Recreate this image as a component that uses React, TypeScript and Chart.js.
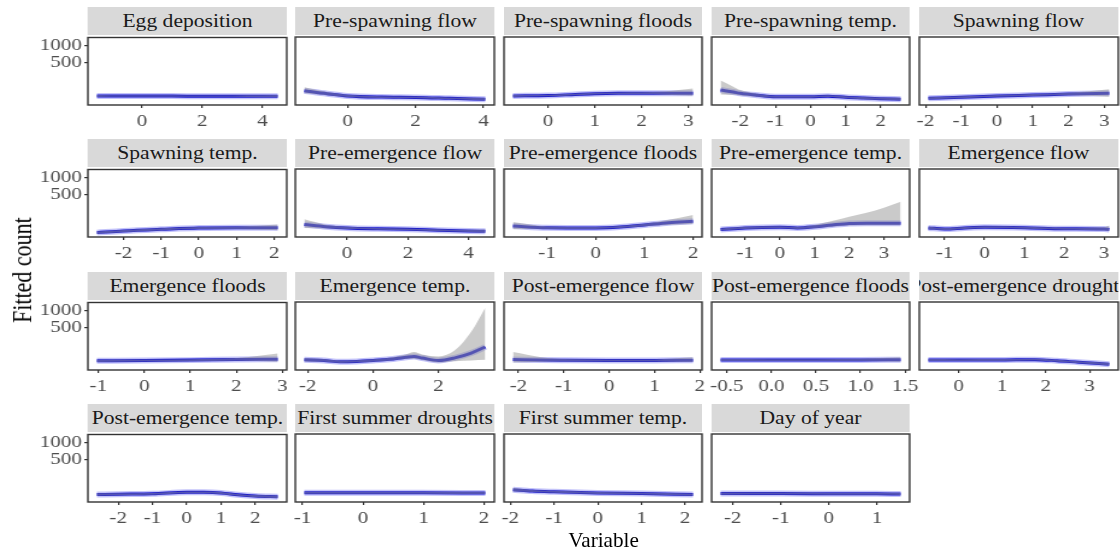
import React, { useEffect, useRef } from 'react';
import { Chart, registerables } from 'chart.js';

Chart.register(...registerables);

// ---------------- data (fitted counts, lower / upper band) ----------------
const Y_TICK_VALUES = [500, 1000];
const Y_TICK_LABELS = ['500', '1000'];

const eggDepositionX = [-1.49, -0.5, 0.5, 1.5, 2.5, 3.5, 4.5];
const eggDepositionFit = [15, 15, 15, 14.5, 14.5, 14.5, 14.5];
const eggDepositionLow = [11, 12, 12, 12, 12, 11, 10];
const eggDepositionHigh = [20, 18.5, 18, 17.5, 17.5, 18.5, 20];
const eggDepositionTicks = ['0', '2', '4'];

const preSpawningFlowX = [-1.27, -0.6, 0, 1, 2, 3, 4.05];
const preSpawningFlowFit = [45, 26, 15, 10.5, 9.5, 6.7, 4.2];
const preSpawningFlowLow = [28, 18, 11, 7.5, 6.5, 4.2, 2];
const preSpawningFlowHigh = [74, 36, 20, 14, 13, 9.5, 7.5];
const preSpawningFlowTicks = ['0', '2', '4'];

const preSpawningFloodsX = [-0.75, 0, 0.5, 1, 1.5, 2, 2.5, 3.1];
const preSpawningFloodsFit = [15, 17, 21, 26, 28, 28, 28, 28];
const preSpawningFloodsLow = [11, 13.5, 17, 21.5, 23, 23, 21, 16];
const preSpawningFloodsHigh = [20, 21, 25, 31, 33, 34, 40, 62];
const preSpawningFloodsTicks = ['0', '1', '2', '3'];

const preSpawningTempX = [-2.56, -2.2, -2, -1.5, -1, -0.5, 0, 0.5, 1, 1.5, 2, 2.57];
const preSpawningTempFit = [50, 36, 28, 18, 12, 12, 12, 14, 10, 7.5, 5.7, 4.4];
const preSpawningTempLow = [22, 20, 17, 12, 8.5, 8.5, 8.5, 10.5, 7, 4.5, 3, 1.8];
const preSpawningTempHigh = [150, 80, 50, 26, 16, 16, 16, 18, 14, 11, 9, 8];
const preSpawningTempTicks = ['-2', '-1', '0', '1', '2'];

const spawningFlowX = [-1.92, -1, 0, 1, 2, 3.14];
const spawningFlowFit = [6.7, 10, 15, 19, 24, 28];
const spawningFlowLow = [4, 7, 11.5, 15, 18, 12];
const spawningFlowHigh = [10, 13.5, 19, 24, 31, 56];
const spawningFlowTicks = ['-2', '-1', '0', '1', '2', '3'];

const spawningTempX = [-2.7, -2, -1, 0, 1, 2.09];
const spawningTempFit = [1.8, 5, 9.8, 15, 16, 16];
const spawningTempLow = [0.6, 2.5, 6.5, 11, 11, 7];
const spawningTempHigh = [4, 8, 13.5, 19.5, 22, 34];
const spawningTempTicks = ['-2', '-1', '0', '1', '2'];

const preEmergenceFlowX = [-1.41, -0.7, 0, 1, 2, 3, 4, 4.55];
const preEmergenceFlowFit = [33, 21, 15, 11.5, 9.6, 7, 5, 4.2];
const preEmergenceFlowLow = [15, 13, 11, 8.5, 6.5, 4.5, 2.8, 1.5];
const preEmergenceFlowHigh = [73, 32, 20, 15, 13, 10, 8, 9];
const preEmergenceFlowTicks = ['0', '2', '4'];

const preEmergenceFloodsX = [-1.7, -1, 0, 0.5, 1, 1.5, 2];
const preEmergenceFloodsFit = [24, 16, 15, 19, 30, 45, 57];
const preEmergenceFloodsLow = [10, 11, 11, 14.5, 23, 30, 36];
const preEmergenceFloodsHigh = [50, 22, 19.5, 24, 38, 70, 120];
const preEmergenceFloodsTicks = ['-1', '0', '1', '2'];

const preEmergenceTempX = [-1.71, -1, 0, 0.5, 1, 1.5, 2, 2.5, 3, 3.48];
const preEmergenceTempFit = [9, 15, 18, 15, 20, 30, 40, 42, 42, 42];
const preEmergenceTempLow = [6, 11, 13.5, 11, 14, 20, 27, 28, 28, 28];
const preEmergenceTempHigh = [13, 20, 23, 20, 30, 58, 99, 147, 221, 330];
const preEmergenceTempTicks = ['-1', '0', '1', '2', '3'];

const emergenceFlowX = [-1.41, -1, -0.5, 0, 1, 2, 3, 3.13];
const emergenceFlowFit = [15, 11, 15, 18, 16, 12, 11, 9];
const emergenceFlowLow = [9, 7.5, 11, 13.5, 12, 8.5, 6, 4];
const emergenceFlowHigh = [22, 15, 19.5, 22.5, 20.5, 16, 18, 27];
const emergenceFlowTicks = ['-1', '0', '1', '2', '3'];

const emergenceFloodsX = [-1.03, 0, 1, 2, 2.9];
const emergenceFloodsFit = [16, 17, 19, 22, 24];
const emergenceFloodsLow = [11.5, 13, 14.5, 16, 12];
const emergenceFloodsHigh = [21, 21.5, 24, 30, 64];
const emergenceFloodsTicks = ['-1', '0', '1', '2', '3'];

const emergenceTempX = [-2.1, -1.5, -1, -0.5, 0, 0.5, 1, 1.25, 1.5, 2, 2.5, 3, 3.43];
const emergenceTempFit = [20, 17, 11.5, 13, 17, 23, 35, 40, 30, 17, 31, 67, 132];
const emergenceTempLow = [13, 11.5, 7.5, 9, 12, 16, 24, 25, 19, 9, 14, 17, 20];
const emergenceTempHigh = [30, 24, 16.5, 18, 23, 32, 55, 76, 55, 40, 93, 390, 1080];
const emergenceTempTicks = ['-2', '0', '2'];

const postEmergenceFlowX = [-2.12, -1.5, -1, 0, 1, 1.85];
const postEmergenceFlowFit = [22, 19, 18, 17, 17, 18];
const postEmergenceFlowLow = [9, 12, 13, 12.5, 12.5, 11];
const postEmergenceFlowHigh = [76, 35, 24, 22, 22, 34];
const postEmergenceFlowTicks = ['-2', '-1', '0', '1', '2'];

const postEmergenceFloodsX = [-0.57, 0, 0.5, 1, 1.45];
const postEmergenceFloodsFit = [19, 19, 19, 19.5, 21];
const postEmergenceFloodsLow = [14.5, 15, 15, 14.5, 12];
const postEmergenceFloodsHigh = [24, 23.5, 23.5, 25, 34];
const postEmergenceFloodsTicks = ['-0.5', '0.0', '0.5', '1.0', '1.5'];

const postEmergenceDroughtsX = [-0.69, 0, 1, 1.75, 2.25, 2.75, 3.45];
const postEmergenceDroughtsFit = [19, 19, 19.5, 21, 16, 10, 4.3];
const postEmergenceDroughtsLow = [14.5, 15, 15, 16.5, 12, 6.5, 2];
const postEmergenceDroughtsHigh = [24, 23.5, 24, 26, 21, 14, 8];
const postEmergenceDroughtsTicks = ['0', '1', '2', '3'];

const postEmergenceTempX = [-2.62, -2, -1, 0, 0.5, 1, 1.5, 2, 2.66];
const postEmergenceTempFit = [9.3, 10.5, 11.7, 18, 18, 15.5, 8.3, 4.7, 3.2];
const postEmergenceTempLow = [5.5, 7, 8.5, 14, 14, 11.5, 5.5, 2.5, 1.2];
const postEmergenceTempHigh = [14, 14, 15.5, 22.5, 22.5, 20, 11.5, 7.5, 6];
const postEmergenceTempTicks = ['-2', '-1', '0', '1', '2'];

const firstSummerDroughtsX = [-0.97, 0, 1, 2.02];
const firstSummerDroughtsFit = [15.7, 15.7, 15.5, 15];
const firstSummerDroughtsLow = [11.5, 11.8, 11.5, 10.5];
const firstSummerDroughtsHigh = [20.5, 20, 20, 20.5];
const firstSummerDroughtsTicks = ['-1', '0', '1', '2'];

const firstSummerTempX = [-1.94, -1.5, -1, 0, 1, 2.18];
const firstSummerTempFit = [32, 24, 20, 15, 12.5, 9];
const firstSummerTempLow = [22, 19, 15.5, 11, 9, 5.5];
const firstSummerTempHigh = [45, 30, 25, 19.5, 16.5, 13];
const firstSummerTempTicks = ['-2', '-1', '0', '1', '2'];

const dayOfYearX = [-2.25, -1, 0, 1, 1.49];
const dayOfYearFit = [12.5, 12.5, 12, 11.5, 11];
const dayOfYearLow = [8.5, 9, 8.5, 8, 7.5];
const dayOfYearHigh = [17, 16.5, 16, 15.5, 15.5];
const dayOfYearTicks = ['-2', '-1', '0', '1'];

type PanelSpec = { title: string; x: number[]; fit: number[]; low: number[]; high: number[]; ticks: string[] };

const PANELS: PanelSpec[] = [
  { title: 'Egg deposition', x: eggDepositionX, fit: eggDepositionFit, low: eggDepositionLow, high: eggDepositionHigh, ticks: eggDepositionTicks },
  { title: 'Pre-spawning flow', x: preSpawningFlowX, fit: preSpawningFlowFit, low: preSpawningFlowLow, high: preSpawningFlowHigh, ticks: preSpawningFlowTicks },
  { title: 'Pre-spawning floods', x: preSpawningFloodsX, fit: preSpawningFloodsFit, low: preSpawningFloodsLow, high: preSpawningFloodsHigh, ticks: preSpawningFloodsTicks },
  { title: 'Pre-spawning temp.', x: preSpawningTempX, fit: preSpawningTempFit, low: preSpawningTempLow, high: preSpawningTempHigh, ticks: preSpawningTempTicks },
  { title: 'Spawning flow', x: spawningFlowX, fit: spawningFlowFit, low: spawningFlowLow, high: spawningFlowHigh, ticks: spawningFlowTicks },
  { title: 'Spawning temp.', x: spawningTempX, fit: spawningTempFit, low: spawningTempLow, high: spawningTempHigh, ticks: spawningTempTicks },
  { title: 'Pre-emergence flow', x: preEmergenceFlowX, fit: preEmergenceFlowFit, low: preEmergenceFlowLow, high: preEmergenceFlowHigh, ticks: preEmergenceFlowTicks },
  { title: 'Pre-emergence floods', x: preEmergenceFloodsX, fit: preEmergenceFloodsFit, low: preEmergenceFloodsLow, high: preEmergenceFloodsHigh, ticks: preEmergenceFloodsTicks },
  { title: 'Pre-emergence temp.', x: preEmergenceTempX, fit: preEmergenceTempFit, low: preEmergenceTempLow, high: preEmergenceTempHigh, ticks: preEmergenceTempTicks },
  { title: 'Emergence flow', x: emergenceFlowX, fit: emergenceFlowFit, low: emergenceFlowLow, high: emergenceFlowHigh, ticks: emergenceFlowTicks },
  { title: 'Emergence floods', x: emergenceFloodsX, fit: emergenceFloodsFit, low: emergenceFloodsLow, high: emergenceFloodsHigh, ticks: emergenceFloodsTicks },
  { title: 'Emergence temp.', x: emergenceTempX, fit: emergenceTempFit, low: emergenceTempLow, high: emergenceTempHigh, ticks: emergenceTempTicks },
  { title: 'Post-emergence flow', x: postEmergenceFlowX, fit: postEmergenceFlowFit, low: postEmergenceFlowLow, high: postEmergenceFlowHigh, ticks: postEmergenceFlowTicks },
  { title: 'Post-emergence floods', x: postEmergenceFloodsX, fit: postEmergenceFloodsFit, low: postEmergenceFloodsLow, high: postEmergenceFloodsHigh, ticks: postEmergenceFloodsTicks },
  { title: 'Post-emergence droughts', x: postEmergenceDroughtsX, fit: postEmergenceDroughtsFit, low: postEmergenceDroughtsLow, high: postEmergenceDroughtsHigh, ticks: postEmergenceDroughtsTicks },
  { title: 'Post-emergence temp.', x: postEmergenceTempX, fit: postEmergenceTempFit, low: postEmergenceTempLow, high: postEmergenceTempHigh, ticks: postEmergenceTempTicks },
  { title: 'First summer droughts', x: firstSummerDroughtsX, fit: firstSummerDroughtsFit, low: firstSummerDroughtsLow, high: firstSummerDroughtsHigh, ticks: firstSummerDroughtsTicks },
  { title: 'First summer temp.', x: firstSummerTempX, fit: firstSummerTempFit, low: firstSummerTempLow, high: firstSummerTempHigh, ticks: firstSummerTempTicks },
  { title: 'Day of year', x: dayOfYearX, fit: dayOfYearFit, low: dayOfYearLow, high: dayOfYearHigh, ticks: dayOfYearTicks },
];

// ---------------- layout & style ----------------
const S = 1.2; // horizontal stretch of the whole figure
const W = 1120;
const H = 554;
const COL_LEFT = [88, 295.5, 503.5, 711, 919];
const ROW_TOP = [37, 169, 302, 434];
const PANEL_W = 199;
const PANEL_H = 68;
const STRIP_H = 28;
const STRIP_GAP = 2;
const PAD = 16;
const PADT = 12;
const XH = 30;
const YW = 44;
const Y_SQRT_LIMITS = [-1.06, 35.98];
const FONT = "'Liberation Serif', 'Times New Roman', serif";
const TICK_SIZE = 17.5;
const STRIP_SIZE = 18;
const TICK_COLOR = '#4d4d4d';
const AXIS_COLOR = '#333333';
const LINE_COLOR = '#0c0cc4';
const HALO_COLOR = 'rgba(40,40,235,0.28)';
const RIBBON_COLOR = 'rgba(150,150,150,0.5)';

const tr = (v: number) => Math.sqrt(v);

const framePlugin = {
  id: 'panelFrame',
  afterDraw(chart: any) {
    const { ctx, chartArea: a } = chart;
    ctx.save();
    ctx.strokeStyle = AXIS_COLOR;
    ctx.lineWidth = 1.4;
    ctx.strokeRect(a.left, a.top, a.right - a.left, a.bottom - a.top);
    ctx.restore();
  },
};

function Panel({ spec, index }: { spec: PanelSpec; index: number }) {
  const ref = useRef<HTMLCanvasElement>(null);
  const col = index % 5;
  const row = Math.floor(index / 5);
  const showY = col === 0;
  const panelLeft = COL_LEFT[col] / S;
  const panelW = PANEL_W / S;
  const yw = showY ? YW : 0;
  const left = panelLeft - PAD - yw;
  const width = PAD + yw + panelW + PAD;
  const top = ROW_TOP[row] - PADT;
  const height = PADT + PANEL_H + XH;

  useEffect(() => {
    const xmin = Math.min(...spec.x);
    const xmax = Math.max(...spec.x);
    const ex = (xmax - xmin) * 0.05;
    const tickVals = spec.ticks.map((t) => parseFloat(t));
    const pts = (arr: number[]) => spec.x.map((x, i) => ({ x, y: tr(arr[i]) }));
    const font = { family: FONT, size: TICK_SIZE };
    const common = { pointRadius: 0, cubicInterpolationMode: 'monotone' as const };
    const chart = new Chart(ref.current!, {
      type: 'line',
      data: {
        datasets: [
          { ...common, data: pts(spec.high), borderColor: 'rgba(0,0,0,0)', borderWidth: 0, backgroundColor: RIBBON_COLOR, fill: '+1' },
          { ...common, data: pts(spec.low), borderColor: 'rgba(0,0,0,0)', borderWidth: 0, fill: false },
          { ...common, data: pts(spec.fit), borderColor: HALO_COLOR, borderWidth: 6, fill: false },
          { ...common, data: pts(spec.fit), borderColor: LINE_COLOR, borderWidth: 3, fill: false },
        ],
      },
      options: {
        responsive: false,
        animation: false,
        events: [],
        layout: { padding: { left: PAD, right: PAD, top: PADT, bottom: 0 } },
        plugins: { legend: { display: false }, tooltip: { enabled: false }, title: { display: false } },
        scales: {
          x: {
            type: 'linear',
            min: xmin - ex,
            max: xmax + ex,
            afterBuildTicks: (s: any) => {
              s.ticks = tickVals.map((v) => ({ value: v }));
            },
            afterFit: (s: any) => {
              s.height = XH;
            },
            ticks: {
              autoSkip: false,
              maxRotation: 0,
              minRotation: 0,
              padding: 3,
              font,
              color: TICK_COLOR,
              callback: (_v: any, i: number) => spec.ticks[i],
            },
            grid: { drawOnChartArea: false, drawTicks: true, tickLength: 3, color: AXIS_COLOR, lineWidth: 1.2 },
            border: { display: false },
          },
          y: {
            type: 'linear',
            display: showY,
            min: Y_SQRT_LIMITS[0],
            max: Y_SQRT_LIMITS[1],
            afterBuildTicks: (s: any) => {
              s.ticks = Y_TICK_VALUES.map((v) => ({ value: tr(v) }));
            },
            afterFit: (s: any) => {
              s.width = yw;
            },
            ticks: {
              autoSkip: false,
              padding: 2,
              font,
              color: TICK_COLOR,
              callback: (_v: any, i: number) => Y_TICK_LABELS[i],
            },
            grid: { drawOnChartArea: false, drawTicks: true, tickLength: 3, color: AXIS_COLOR, lineWidth: 1.2 },
            border: { display: false },
          },
        },
      } as any,
      plugins: [framePlugin],
    });
    return () => chart.destroy();
  }, []);

  const stripTop = ROW_TOP[row] - STRIP_GAP - STRIP_H;
  return (
    <>
      <div
        style={{
          position: 'absolute',
          left: panelLeft,
          top: stripTop,
          width: panelW,
          height: STRIP_H,
          background: '#d9d9d9',
          overflow: 'hidden',
          display: 'flex',
          justifyContent: 'center',
          alignItems: 'center',
          fontFamily: FONT,
          fontSize: STRIP_SIZE,
          color: '#1a1a1a',
        }}
      >
        <span style={{ whiteSpace: 'nowrap', flexShrink: 0 }}>{spec.title}</span>
      </div>
      <canvas
        ref={ref}
        width={width}
        height={height}
        style={{ position: 'absolute', left, top, width, height }}
      />
    </>
  );
}

export default function App() {
  return (
    <div
      style={{
        position: 'absolute',
        left: 0,
        top: 0,
        width: W / S,
        height: H,
        background: '#ffffff',
        transform: `scaleX(${S})`,
        transformOrigin: '0 0',
        overflow: 'visible',
      }}
    >
      {PANELS.map((p, i) => (
        <Panel key={p.title} spec={p} index={i} />
      ))}
      <div
        style={{
          position: 'absolute',
          left: 22.5 / S,
          top: 270,
          transform: 'translate(-50%, -50%) rotate(-90deg)',
          fontFamily: FONT,
          fontSize: 22,
          color: '#000',
          whiteSpace: 'nowrap',
        }}
      >
        Fitted count
      </div>
      <div
        style={{
          position: 'absolute',
          left: 603 / S,
          top: 540,
          transform: 'translate(-50%, -50%) scaleX(0.84)',
          fontFamily: FONT,
          fontSize: 21,
          color: '#000',
          whiteSpace: 'nowrap',
        }}
      >
        Variable
      </div>
    </div>
  );
}
